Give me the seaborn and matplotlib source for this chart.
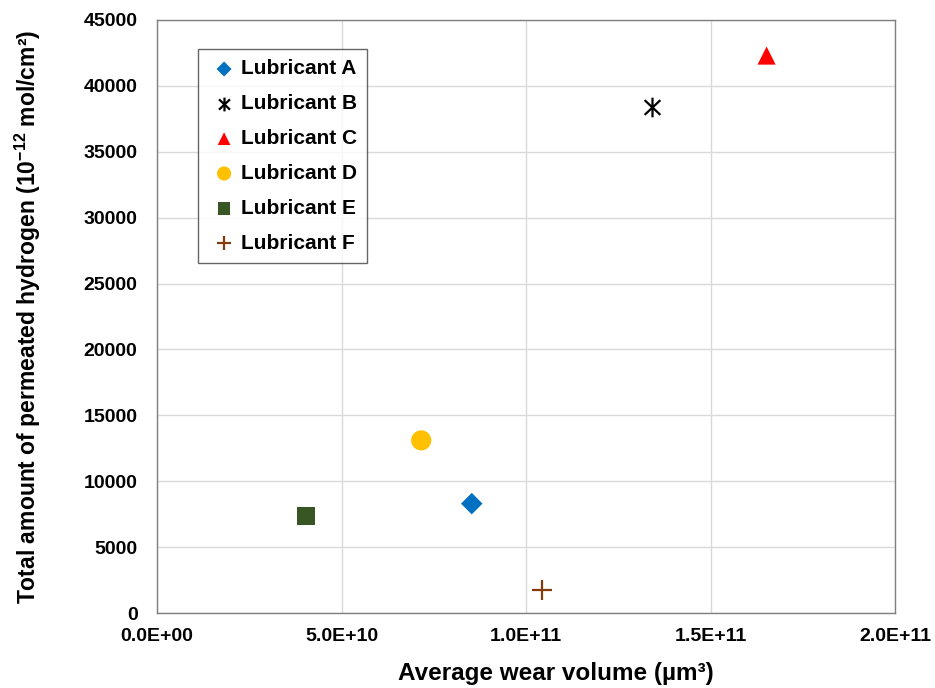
import numpy as np
import pandas as pd
import matplotlib
matplotlib.use("Agg")
import matplotlib.pyplot as plt
from matplotlib.path import Path
import seaborn as sns

lubricants = ["Lubricant A", "Lubricant B", "Lubricant C", "Lubricant D", "Lubricant E", "Lubricant F"]
wear_volume = [8.53e10, 1.341e11, 1.652e11, 7.16e10, 4.04e10, 1.043e11]
hydrogen = [8300, 38400, 42300, 13100, 7340, 1770]
colors = ["#0070C0", "#000000", "#FF0000", "#FFC000", "#375623", "#843C0C"]
x_ticks = [0, 5e10, 1e11, 1.5e11, 2e11]
x_tick_labels = ["0.0E+00", "5.0E+10", "1.0E+11", "1.5E+11", "2.0E+11"]
y_ticks = [0, 5000, 10000, 15000, 20000, 25000, 30000, 35000, 40000, 45000]

sns.set_style("white")
plt.rcParams['font.family'] = ['Liberation Sans', 'DejaVu Sans']
plt.rcParams['mathtext.fontset'] = 'custom'
plt.rcParams['mathtext.rm'] = 'Liberation Sans:bold'
plt.rcParams['mathtext.it'] = 'Liberation Sans:bold'
plt.rcParams['mathtext.bf'] = 'Liberation Sans:bold'
plt.rcParams['text.color'] = 'black'
plt.rcParams['axes.labelcolor'] = 'black'
plt.rcParams['xtick.color'] = 'black'
plt.rcParams['ytick.color'] = 'black'

asterisk = Path([(0, -1), (0, 1), (-0.8, -0.75), (0.8, 0.75), (-0.8, 0.75), (0.8, -0.75)],
                [Path.MOVETO, Path.LINETO, Path.MOVETO, Path.LINETO, Path.MOVETO, Path.LINETO])
markers = ["D", asterisk, "^", "o", "s", "+"]
sizes = [120, 200, 170, 210, 170, 210]

df = pd.DataFrame({"lub": lubricants, "x": wear_volume, "y": hydrogen})

fig = plt.figure(figsize=(9.35, 6.88), dpi=100)
ax = fig.add_axes([157/935, 1 - 613/688, (895-157)/935, (613-20)/688])

for i, lub in enumerate(lubricants):
    sub = df[df["lub"] == lub]
    line_marker = markers[i] is asterisk or markers[i] == "+"
    kw = dict(edgecolor=colors[i], linewidth=1.6) if line_marker else dict(edgecolor="none")
    sns.scatterplot(data=sub, x="x", y="y", ax=ax, marker=markers[i], color=colors[i],
                    s=sizes[i], label=lub, zorder=3, **kw)

ax.set_xlim(0, 2e11)
ax.set_ylim(0, 45000)
ax.set_xticks(x_ticks)
ax.set_xticklabels(x_tick_labels)
ax.set_yticks(y_ticks)
ax.set_yticklabels([str(v) for v in y_ticks])
ax.tick_params(axis="both", labelsize=14, length=0)
ax.tick_params(axis="y", pad=14)
ax.tick_params(axis="x", pad=11)
for lab in ax.get_xticklabels() + ax.get_yticklabels():
    lab.set_fontweight("bold")
ax.grid(True, color="#d9d9d9", linewidth=1)
ax.set_axisbelow(True)
for sp in ax.spines.values():
    sp.set_color("#808080")
    sp.set_linewidth(1)

ax.set_xlabel("Average wear volume (µm³)", fontsize=17.5, fontweight="bold")
ax.xaxis.set_label_coords(0.54, -0.083)
ax.set_ylabel("Total amount of permeated hydrogen (10$^{-12}$ mol/cm²)", fontsize=16.5,
              fontweight="bold")
ax.yaxis.set_label_coords(-0.155, 0.5)

leg = ax.legend(loc="upper left", bbox_to_anchor=(0.0556, 0.951), frameon=True, fancybox=False,
                edgecolor="#404040", markerscale=0.7, handletextpad=0.05, handlelength=1.5,
                labelspacing=0.76, borderpad=0.5, borderaxespad=0,
                prop={"size": 15, "weight": "bold"})
leg.get_frame().set_linewidth(1)

fig.savefig("out.png", dpi=100)
